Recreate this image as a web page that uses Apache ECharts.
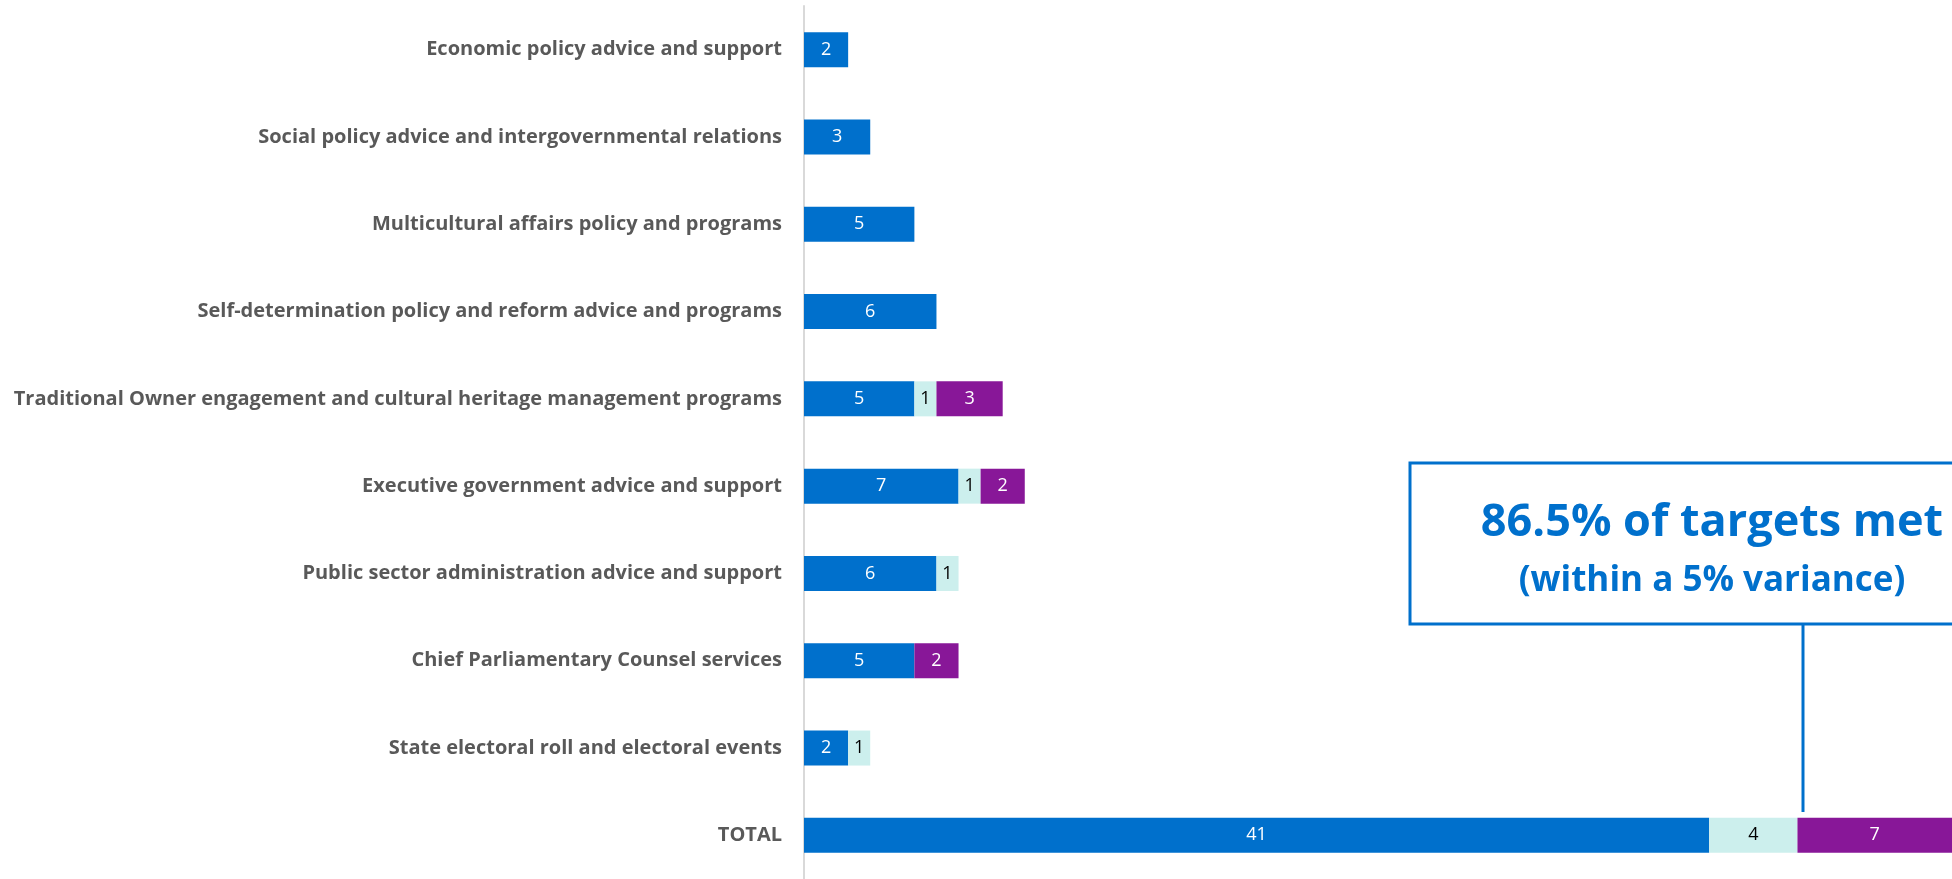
<!DOCTYPE html>
<html>
<head>
<meta charset="utf-8">
<script src="https://cdn.jsdelivr.net/npm/echarts@6/dist/echarts.min.js"></script>
<style>
    html, body {margin: 0; padding: 0; background: #fff;}
    #chart {width: 1952px; height: 879px;}
</style>
</head>
<body>
<div id="chart"></div>
<script>
var categories = [
    'Economic policy advice and support',
    'Social policy advice and intergovernmental relations',
    'Multicultural affairs policy and programs',
    'Self-determination policy and reform advice and programs',
    'Traditional Owner engagement and cultural heritage management programs',
    'Executive government advice and support',
    'Public sector administration advice and support',
    'Chief Parliamentary Counsel services',
    'State electoral roll and electoral events',
    'TOTAL'
];
var met = [2, 3, 5, 6, 5, 7, 6, 5, 2, 41];          // blue
var withinVariance = [0, 0, 0, 0, 1, 1, 1, 0, 1, 4]; // light cyan
var notMet = [0, 0, 0, 0, 3, 2, 0, 2, 0, 7];         // purple

var headline = '86.5% of targets met';
var subline = '(within a 5% variance)';

var blue = '#0070CC';
var font = '"Open Sans", "Noto Sans", sans-serif';

function hideZero(p) {
    return p.value === 0 ? '' : p.value;
}

function makeSeries(name, data, color, textColor) {
    return {
        name: name,
        type: 'bar',
        stack: 'all',
        data: data,
        barWidth: 35,
        itemStyle: {color: color},
        label: {
            show: true,
            position: 'inside',
            color: textColor,
            fontFamily: font,
            fontSize: 18,
            formatter: hideZero
        }
    };
}

var myChart = echarts.init(document.getElementById('chart'));
myChart.setOption({
    animation: false,
    grid: {left: 804, right: 0, top: 6, height: 877, containLabel: false},
    xAxis: {
        type: 'value',
        min: 0,
        max: 52,
        show: false
    },
    yAxis: {
        type: 'category',
        inverse: true,
        data: categories,
        axisLine: {show: true, lineStyle: {color: '#D9D9D9', width: 2}},
        axisTick: {show: false},
        axisLabel: {
            margin: 22,
            color: '#595959',
            fontFamily: font,
            fontWeight: 'bold',
            fontSize: 20
        }
    },
    series: [
        makeSeries('Met', met, blue, '#ffffff'),
        makeSeries('Within 5% variance', withinVariance, '#CCEFED', '#000000'),
        makeSeries('Not met', notMet, '#881798', '#ffffff')
    ],
    graphic: [
        {
            type: 'rect',
            shape: {x: 1410, y: 463, width: 600, height: 161},
            style: {fill: '#ffffff', stroke: blue, lineWidth: 3},
            z: 10
        },
        {
            type: 'line',
            shape: {x1: 1803, y1: 624, x2: 1803, y2: 812},
            style: {stroke: blue, lineWidth: 3},
            z: 10
        },
        {
            type: 'text',
            x: 1712,
            y: 523,
            style: {
                text: headline,
                fill: blue,
                font: 'bold 45px ' + font,
                textAlign: 'center',
                textVerticalAlign: 'middle'
            },
            z: 11
        },
        {
            type: 'text',
            x: 1712,
            y: 581,
            style: {
                text: subline,
                fill: blue,
                font: 'bold 35px ' + font,
                textAlign: 'center',
                textVerticalAlign: 'middle'
            },
            z: 11
        }
    ]
});
</script>
</body>
</html>
